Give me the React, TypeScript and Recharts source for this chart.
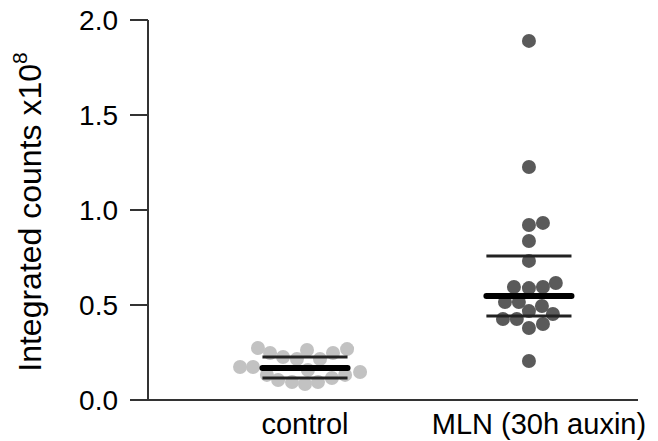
// Dot plot: integrated counts for control vs MLN, with median and quartile bars

import { ScatterChart, Scatter, XAxis, YAxis } from 'recharts'

const categories = ['control', 'MLN (30h auxin)']
const yTicks = [0, 0.5, 1.0, 1.5, 2.0]

// values (x10^8) and the swarm offset of each dot
const controlValues = [
  0.274, 0.247, 0.226, 0.216, 0.263, 0.216, 0.247, 0.268, 0.174, 0.174,
  0.147, 0.158, 0.132, 0.105, 0.095, 0.084, 0.095, 0.116, 0.132,
]
const controlOffsets = [
  -0.21, -0.156, -0.098, -0.036, 0.009, 0.067, 0.125, 0.188, -0.29, -0.232,
  0.246, 0.013, -0.17, -0.12, -0.058, 0, 0.058, 0.12, 0.179,
]
const mlnValues = [
  1.89, 1.226, 0.921, 0.932, 0.837, 0.732, 0.595, 0.589, 0.595, 0.616,
  0.516, 0.516, 0.468, 0.495, 0.453, 0.426, 0.426, 0.379, 0.4, 0.205,
]
const mlnOffsets = [
  0, 0, 0, 0.0625, 0, 0, -0.067, 0, 0.0625, 0.12,
  -0.107, -0.045, 0, 0.058, 0.107, -0.116, -0.054, 0, 0.0625, 0,
]

// [lower quartile, median, upper quartile]
const controlStats = [0.116, 0.168, 0.226]
const mlnStats = [0.442, 0.547, 0.758]

const HALF = 0.19
const FONT = '"Liberation Sans", Arial, sans-serif'

const toPoints = (values: number[], offsets: number[], center: number) =>
  values.map((v, i) => ({ x: center + offsets[i], y: v }))

const segment = (center: number, y: number) => [
  { x: center - HALF, y },
  { x: center + HALF, y },
]

const dot = (fill: string) => (props: any) =>
  <circle cx={props.cx} cy={props.cy} r={7} fill={fill} />

const noDot = () => <g />

const XTick = (props: any) => {
  const { x, y, payload } = props
  const shift = payload.value === 2 ? 10 : 0
  return (
    <text x={x + shift} y={y} dy="0.71em" textAnchor="middle" fontSize={29} fontFamily={FONT} fill="#000">
      {categories[payload.value - 1]}
    </text>
  )
}

const YLabel = () => (
  <text x={41} y={212} transform="rotate(-90, 41, 212)" textAnchor="middle" fontSize={32} fontFamily={FONT} fill="#000">
    Integrated counts x10
    <tspan fontSize={21} dy={-14}>8</tspan>
  </text>
)

export default function App() {
  const statLines = [
    { center: 1, stats: controlStats },
    { center: 2, stats: mlnStats },
  ]
  return (
    <div>
      <style>{'body{margin:0}'}</style>
      <ScatterChart width={658} height={441} margin={{ top: 20, right: 20, bottom: 0, left: 0 }}>
        <XAxis
          type="number"
          dataKey="x"
          domain={[0.299, 2.487]}
          allowDataOverflow
          ticks={[1, 2]}
          tick={<XTick />}
          tickLine={false}
          tickSize={6}
          tickMargin={7}
          height={41}
          axisLine={{ stroke: '#333', strokeWidth: 2 }}
        />
        <YAxis
          type="number"
          dataKey="y"
          domain={[0, 2]}
          ticks={yTicks}
          width={148}
          tickSize={18}
          tickMargin={12}
          tickFormatter={(v: number) => v.toFixed(1)}
          tick={{ fontSize: 28, fontFamily: FONT, fill: '#000' }}
          tickLine={{ stroke: '#333', strokeWidth: 2 }}
          axisLine={{ stroke: '#333', strokeWidth: 2 }}
          label={{ content: <YLabel /> }}
        />
        <Scatter data={toPoints(controlValues, controlOffsets, 1)} shape={dot('#c2c2c2')} isAnimationActive={false} />
        <Scatter data={toPoints(mlnValues, mlnOffsets, 2)} shape={dot('#5a5a5a')} isAnimationActive={false} />
        {statLines.map(({ center, stats }) =>
          stats.map((s, i) => (
            <Scatter
              key={`${center}-${i}`}
              data={segment(center, s)}
              shape={noDot}
              line={{
                stroke: i === 1 ? '#000' : '#222',
                strokeWidth: i === 1 ? 6 : 3,
                strokeLinecap: i === 1 ? 'round' : 'butt',
              }}
              isAnimationActive={false}
            />
          ))
        )}
      </ScatterChart>
    </div>
  )
}
